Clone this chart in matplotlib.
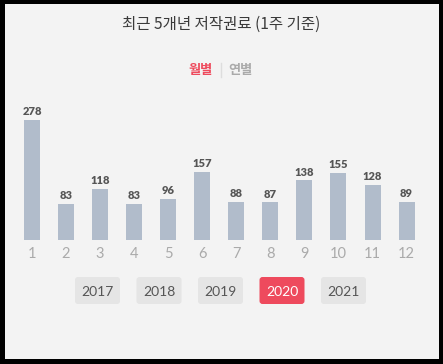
import matplotlib
matplotlib.use("Agg")
import matplotlib.pyplot as plt
from matplotlib.patches import FancyBboxPatch, Rectangle

# data
months = [1, 2, 3, 4, 5, 6, 7, 8, 9, 10, 11, 12]
royalties = [278, 83, 118, 83, 96, 157, 88, 87, 138, 155, 128, 89]
years = ["2017", "2018", "2019", "2020", "2021"]
selected_year = "2020"
title = "최근 5개년 저작권료 (1주 기준)"

BG = "#f3f3f3"
BAR = "#b1bccb"
RED = "#ee4a5d"
KR = ["Noto Sans CJK KR", "DejaVu Sans"]

fig = plt.figure(figsize=(4.43, 3.64), dpi=100)
fig.patch.set_facecolor("black")

# pixel-space background axes
bg = fig.add_axes([0, 0, 1, 1])
bg.set_xlim(0, 443)
bg.set_ylim(364, 0)
bg.axis("off")
bg.add_patch(Rectangle((5, 4), 434, 355, facecolor=BG, edgecolor="none"))

bg.text(221, 24, title, ha="center", va="center", fontsize=11.2,
        family=KR, color="#3a3a3a")
bg.text(213, 70, "월별", ha="right", va="center", fontsize=9.5, fontweight="bold",
        family=KR, color=RED)
bg.plot([221, 221], [63, 77], color="#dddddd", lw=1)
bg.text(228, 70, "연별", ha="left", va="center", fontsize=9.5, fontweight="bold",
        family=KR, color="#aaaaaa")

# year buttons
for i, yr in enumerate(years):
    x0 = 75 + i * 61.5
    sel = yr == selected_year
    bg.add_patch(FancyBboxPatch((x0 + 2, 279), 41, 23,
                                boxstyle="round,pad=2,rounding_size=3",
                                facecolor=RED if sel else "#e5e5e5",
                                edgecolor="none"))
    bg.text(x0 + 22.5, 291.5, yr, ha="center", va="center", fontsize=10,
            family="Lato", color="white" if sel else "#555555")

# bar chart axes: baseline at y=240px, top at y=100px
ax = fig.add_axes([15 / 443, (364 - 240) / 364, 408.6 / 443, 140 / 364])
ax.patch.set_alpha(0)
ax.bar(months, royalties, width=0.47, color=BAR)
ax.set_xlim(0.5, 12.5)
ax.set_ylim(0, 324.3)
for m, v in zip(months, royalties):
    ax.annotate(str(v), (m, v), xytext=(0, 2), textcoords="offset points",
                ha="center", va="bottom", fontsize=8, fontweight="heavy",
                family="Lato", color="#555555")
ax.set_xticks(months)
ax.set_xticklabels([str(m) for m in months], family="Lato", fontsize=10.5,
                   color="#aaaaaa")
ax.tick_params(axis="x", length=0, pad=5)
ax.set_yticks([])
for s in ax.spines.values():
    s.set_visible(False)

fig.savefig("out.png", dpi=100, facecolor=fig.get_facecolor())
